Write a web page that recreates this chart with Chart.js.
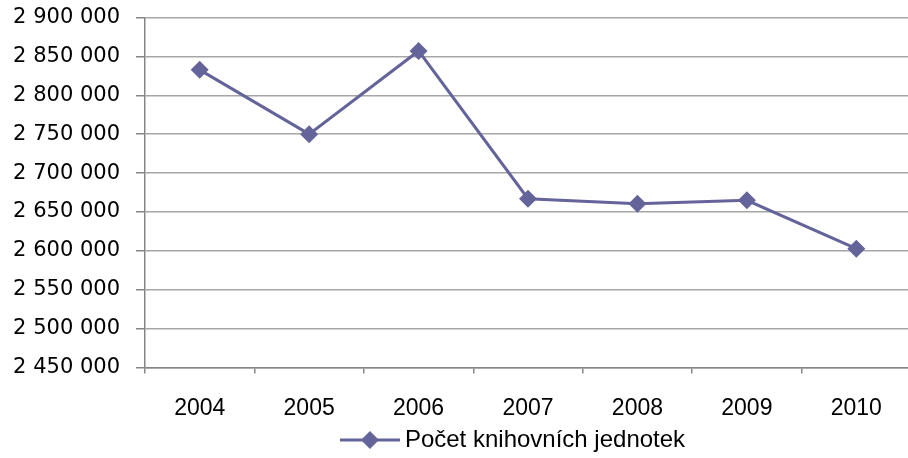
<!DOCTYPE html>
<html lang="cs">
<head>
    <meta charset="UTF-8">
    <title>Počet knihovních jednotek</title>
    <script src="https://cdn.jsdelivr.net/npm/chart.js"></script>
    <style>
        html, body { margin: 0; padding: 0; background: #fff; overflow: hidden; }
        #wrap { width: 920px; height: 458px; }
    </style>
</head>
<body>
    <div id="wrap">
        <canvas id="myChart"></canvas>
    </div>

    <script>
        // data
        const years = ['2004', '2005', '2006', '2007', '2008', '2009', '2010'];
        const units = [2832700, 2750000, 2857000, 2667000, 2660500, 2665000, 2602800];
        const seriesName = 'Počet knihovních jednotek';
        const yMin = 2450000;
        const yMax = 2900000;
        const yStep = 50000;

        const lineColor = '#64649b';
        const gridColor = '#a6a6a6';

        // legend symbol: short line with a diamond on it (drawn in the right part so the text sits close)
        const sym = document.createElement('canvas');
        sym.width = 74;
        sym.height = 20;
        const sctx = sym.getContext('2d');
        sctx.strokeStyle = lineColor;
        sctx.lineWidth = 3;
        sctx.beginPath();
        sctx.moveTo(14, 10);
        sctx.lineTo(74, 10);
        sctx.stroke();
        sctx.fillStyle = lineColor;
        sctx.beginPath();
        sctx.moveTo(44, 1);
        sctx.lineTo(53, 10);
        sctx.lineTo(44, 19);
        sctx.lineTo(35, 10);
        sctx.closePath();
        sctx.fill();

        function spaced(v) {
            return String(v).replace(/\B(?=(\d{3})+(?!\d))/g, ' ');
        }

        // nudge the legend a bit left and down, like in the original
        const legendShift = {
            id: 'legendShift',
            afterLayout(chart) {
                chart.legend.left -= 19;
                chart.legend.right -= 19;
                chart.legend.top += 4;
                chart.legend.bottom += 4;
            }
        };

        const data = {
            labels: years,
            datasets: [{
                label: seriesName,
                data: units,
                borderColor: lineColor,
                backgroundColor: lineColor,
                borderWidth: 3,
                pointStyle: 'rectRot',
                pointRadius: 9,
                pointHoverRadius: 9,
                pointBorderWidth: 0,
                tension: 0
            }]
        };

        const config = {
            type: 'line',
            data: data,
            plugins: [legendShift],
            options: {
                responsive: true,
                maintainAspectRatio: false,
                animation: false,
                layout: {
                    padding: { top: 17.5, left: 0, right: 3, bottom: 0 }
                },
                scales: {
                    x: {
                        offset: true,
                        afterFit: function (scale) { scale.height = 56.5; },
                        grid: {
                            offset: true,
                            drawOnChartArea: false,
                            drawTicks: true,
                            tickLength: 6,
                            color: '#868686',
                            lineWidth: 1.5
                        },
                        border: { color: '#868686', width: 1.5 },
                        ticks: {
                            color: '#000',
                            padding: 21.5,
                            maxRotation: 0,
                            font: { family: 'Liberation Sans', size: 23 }
                        }
                    },
                    y: {
                        min: yMin,
                        max: yMax,
                        afterFit: function (scale) {
                            scale.width = 145;
                            scale.paddingTop = 0;
                            scale.paddingBottom = 0;
                        },
                        grid: {
                            color: gridColor,
                            lineWidth: 1.5,
                            tickLength: 9,
                            tickColor: '#868686'
                        },
                        border: { color: '#868686', width: 1.5 },
                        ticks: {
                            stepSize: yStep,
                            color: '#000',
                            padding: 16,
                            font: { family: 'DejaVu Sans', size: 21 },
                            callback: function (v) { return spaced(v); }
                        }
                    }
                },
                plugins: {
                    tooltip: { enabled: false },
                    legend: {
                        position: 'bottom',
                        fullSize: false,
                        labels: {
                            usePointStyle: true,
                            pointStyle: sym,
                            pointStyleWidth: 60,
                            padding: 0,
                            color: '#000',
                            font: { family: 'Liberation Sans', size: 24 }
                        }
                    }
                }
            }
        };

        new Chart(document.getElementById('myChart'), config);
    </script>
</body>
</html>
